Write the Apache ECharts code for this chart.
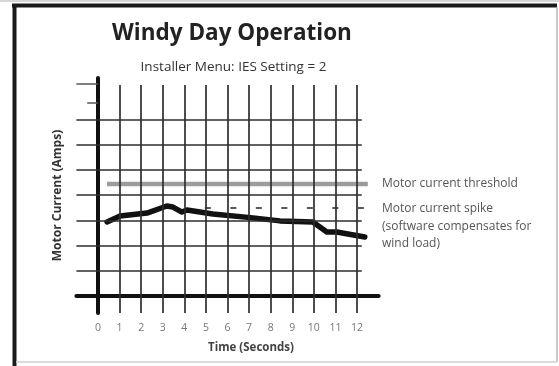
<!DOCTYPE html>
<html>
<head>
<meta charset="utf-8">
<script src="https://cdn.jsdelivr.net/npm/echarts@6/dist/echarts.min.js"></script>
<style>
  html, body { margin: 0; padding: 0; background: #fff; }
  #chart { width: 559px; height: 366px; }
</style>
</head>
<body>
<div id="chart"></div>
<script>
// Time ticks (seconds) shown along the bottom axis
const timeTicks = [0, 1, 2, 3, 4, 5, 6, 7, 8, 9, 10, 11, 12];
// Horizontal grid levels (arbitrary current units, no labels)
const currentLevels = [1, 2, 3, 4, 5, 6, 7];
// Short marks above the grid on the current axis
const upperMarks = [7.66, 8.41];

// Measured motor current over time
const timeSec   = [0.42, 1.02, 2.27, 3.19, 3.47, 3.89, 4.12, 5.32, 7.18, 8.43, 9.95, 10.28, 10.6, 11.06, 12.36];
const motorAmps = [2.94, 3.17, 3.29, 3.57, 3.53, 3.33, 3.41, 3.25, 3.10, 2.98, 2.94, 2.74, 2.54, 2.54, 2.34];

// Reference levels
const thresholdAmps = 4.44;
const thresholdSpan = [0.42, 12.5];
const spikeAmps = 3.49;
const spikeSpan = [4.95, 12.45];

const FONT = '"Open Sans", Lato, sans-serif';
const Y_MIN = -0.675, Y_MAX = 8.65;

const gridLineStyle = { color: '#2e2e2e', width: 1.7, type: 'solid' };

const horizontalLines = currentLevels.map(v => [
  { coord: [-1, v] }, { coord: [12.22, v] }
]);
const verticalLines = timeTicks.filter(t => t > 0).map(t => [
  { coord: [t, Y_MIN] }, { coord: [t, 8.37] }
]);
const upperTickLines = [
  [{ coord: [-0.5, upperMarks[0]] }, { coord: [0, upperMarks[0]] }],
  [{ coord: [-1, upperMarks[1]] }, { coord: [0, upperMarks[1]] }]
];

const chart = echarts.init(document.getElementById('chart'), null, { renderer: 'canvas' });

chart.setOption({
  animation: false,
  backgroundColor: '#ffffff',
  grid: { left: 76.4, right: 180.4, top: 78, bottom: 53, containLabel: false },
  xAxis: {
    type: 'value',
    min: -1, max: 13, interval: 1,
    axisLine: { show: true, onZero: true, lineStyle: { color: '#111', width: 4 } },
    axisTick: { show: false },
    splitLine: { show: false },
    axisLabel: {
      margin: 10,
      color: '#777',
      fontFamily: FONT,
      fontSize: 10.5,
      formatter: v => (v < 0 || v > 12) ? '' : String(v)
    }
  },
  yAxis: {
    type: 'value',
    min: Y_MIN, max: Y_MAX,
    axisLine: { show: true, onZero: true, lineStyle: { color: '#111', width: 4 } },
    axisTick: { show: false },
    splitLine: { show: false },
    axisLabel: { show: false },
    name: 'Motor Current (Amps)',
    nameLocation: 'middle',
    nameRotate: 90,
    nameGap: 13,
    nameTextStyle: { color: '#333', fontFamily: FONT, fontWeight: 'bold', fontSize: 12 }
  },
  series: [
    {
      type: 'line',
      data: [],
      silent: true,
      markLine: {
        symbol: 'none',
        silent: true,
        label: { show: false },
        lineStyle: gridLineStyle,
        data: horizontalLines.concat(verticalLines)
      }
    },
    {
      type: 'line',
      data: [],
      silent: true,
      markLine: {
        symbol: 'none',
        silent: true,
        label: { show: false },
        lineStyle: { color: '#555', width: 1.5, type: 'solid' },
        data: upperTickLines
      }
    },
    {
      name: 'threshold',
      type: 'line',
      data: [[thresholdSpan[0], thresholdAmps], [thresholdSpan[1], thresholdAmps]],
      symbol: 'none',
      lineStyle: { color: '#9b9b9b', width: 4.5 },
      z: 3
    },
    {
      name: 'spike',
      type: 'line',
      data: [[spikeSpan[0], spikeAmps], [spikeSpan[1], spikeAmps]],
      symbol: 'none',
      lineStyle: { color: '#222', width: 1.6, type: [6, 19.5] },
      z: 3
    },
    {
      name: 'current',
      type: 'line',
      data: timeSec.map((t, i) => [t, motorAmps[i]]),
      symbol: 'none',
      smooth: false,
      lineStyle: { color: '#111', width: 5.5, join: 'round', cap: 'round' },
      z: 4
    }
  ],
  graphic: [
    // frame around the panel
    { type: 'line', silent: true, shape: { x1: 0, y1: 1, x2: 559, y2: 1 }, style: { stroke: '#d6d6d6', lineWidth: 2 } },
    { type: 'line', silent: true, shape: { x1: 12, y1: 5.5, x2: 557, y2: 5.5 }, style: { stroke: '#1a1a1a', lineWidth: 4 } },
    { type: 'line', silent: true, shape: { x1: 14.5, y1: 4, x2: 14.5, y2: 366 }, style: { stroke: '#1a1a1a', lineWidth: 4 } },
    { type: 'line', silent: true, shape: { x1: 557, y1: 7, x2: 557, y2: 362 }, style: { stroke: '#b8b8b8', lineWidth: 1.5 } },
    { type: 'line', silent: true, shape: { x1: 16, y1: 362, x2: 557, y2: 362 }, style: { stroke: '#cfcfcf', lineWidth: 1.5 } },
    // titles
    { type: 'text', silent: true, x: 232, y: 34,
      style: { text: 'Windy Day Operation', fill: '#222', align: 'center', verticalAlign: 'middle',
               font: 'bold 22.5px ' + FONT } },
    { type: 'text', silent: true, x: 233.5, y: 67,
      style: { text: 'Installer Menu: IES Setting = 2', fill: '#333', align: 'center', verticalAlign: 'middle',
               font: '13.5px ' + FONT } },
    { type: 'text', silent: true, x: 251, y: 348,
      style: { text: 'Time (Seconds)', fill: '#444', align: 'center', verticalAlign: 'middle',
               font: 'bold 11.5px ' + FONT } },
    // annotations
    { type: 'text', silent: true, x: 382, y: 184,
      style: { text: 'Motor current threshold', fill: '#555', align: 'left', verticalAlign: 'middle',
               font: '12px ' + FONT } },
    { type: 'text', silent: true, x: 382, y: 200,
      style: { text: 'Motor current spike\n(software compensates for\nwind load)', fill: '#555', align: 'left', verticalAlign: 'top',
               font: '12px ' + FONT, lineHeight: 17.5 } }
  ]
});
</script>
</body>
</html>
